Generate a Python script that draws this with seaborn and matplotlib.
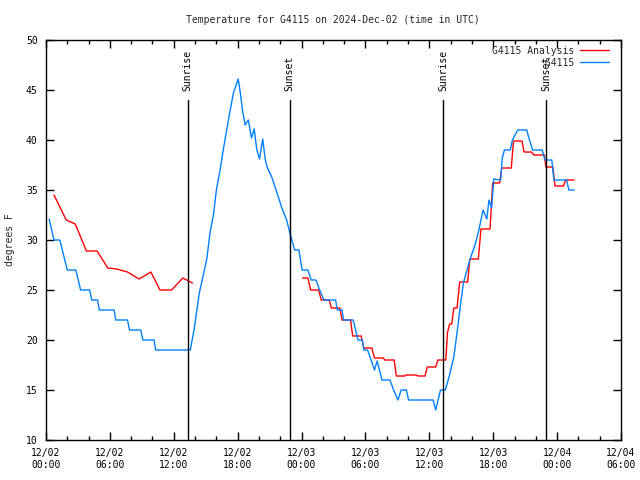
import numpy as np
import pandas as pd
import matplotlib
matplotlib.use("Agg")
import matplotlib.pyplot as plt
import matplotlib.dates as mdates
from matplotlib.lines import Line2D
import seaborn as sns

# ---- data (hours after 2024-12-02 00:00 UTC, temperature degF) ----
obs_hours = [0.3, 0.75, 1.3, 2.0, 2.8, 3.25, 4.1, 4.3, 4.85, 5.0, 6.4, 6.55, 7.65, 7.85,
             8.9, 9.1, 10.15, 10.3, 13.55, 13.9, 14.4, 15.1, 15.4, 15.75, 16.0, 16.35,
             16.6, 16.85, 17.25, 17.6, 18.05, 18.25, 18.45, 18.7, 19.0, 19.3, 19.55, 19.8,
             20.05, 20.35, 20.6, 20.8, 21.2, 21.7, 22.15, 22.6, 22.9, 23.35, 23.75, 24.05,
             24.6, 24.9, 25.35, 25.7, 26.1, 27.2, 27.35, 27.8, 27.95, 28.85, 29.3, 29.7,
             29.85, 30.2, 30.85, 31.1, 31.55, 32.3, 32.65, 33.05, 33.35, 33.85, 34.05,
             36.35, 36.6, 37.05, 37.5, 37.85, 38.3, 38.6, 38.9, 39.2, 39.8, 40.35, 40.65,
             41.05, 41.4, 41.6, 41.85, 42.05, 42.7, 42.85, 43.05, 43.6, 43.8, 44.3, 45.15,
             45.35, 45.7, 46.6, 46.85, 47.5, 47.7, 48.9, 49.1, 49.6]
obs_temps = [32.1, 30, 30, 27, 27, 25, 25, 24, 24, 23, 23, 22, 22, 21,
             21, 20, 20, 19, 19, 21, 24.7, 28.1, 30.7, 32.7, 35, 37,
             38.7, 40.3, 42.7, 44.7, 46.1, 44.7, 43, 41.5, 42, 40.2, 41.1, 39,
             38.1, 40.1, 38, 37.2, 36.3, 34.7, 33.2, 32, 30.7, 29, 29, 27,
             27, 26, 26, 25, 24, 24, 23, 23, 22, 22, 20, 20,
             19, 19, 17, 17.9, 16, 16, 15, 14, 15, 15, 14,
             14, 13, 15, 15, 16.3, 18.3, 20.7, 23.3, 25.7, 28, 29.7, 31,
             33, 32.1, 34, 33.2, 36.1, 36, 38.2, 39, 39, 40, 41, 41,
             40.2, 39, 39, 38, 38, 36, 36, 35, 35]

ana_hours_a = [0.75, 1.9, 2.75, 3.8, 4.8, 5.8, 6.65, 7.65, 8.75, 9.85, 10.7, 11.8, 12.85, 13.75]
ana_temps_a = [34.5, 32, 31.6, 28.9, 28.9, 27.2, 27.1, 26.8, 26.1, 26.8, 25, 25, 26.2, 25.7]
ana_hours_b = [24.1, 24.6, 24.85, 25.6, 25.85, 26.6, 26.8, 27.6, 27.8, 28.6, 28.8, 29.6,
               29.85, 30.6, 30.85, 31.7, 31.8, 32.7, 32.9, 33.7, 33.8, 34.8, 34.9, 35.6,
               35.8, 36.6, 36.8, 37.55, 37.7, 37.9, 38.1, 38.3, 38.6, 38.85, 39.6, 39.8,
               40.6, 40.85, 41.7, 41.95, 42.6, 42.8, 43.7, 43.9, 44.7, 44.9, 45.6, 45.8,
               46.8, 46.95, 47.6, 47.8, 48.6, 48.8, 49.6]
ana_temps_b = [26.2, 26.2, 25, 25, 24, 24, 23.2, 23.2, 22, 22, 20.4, 20.4,
               19.2, 19.2, 18.2, 18.2, 18.0, 18.0, 16.4, 16.4, 16.5, 16.5, 16.4, 16.4,
               17.3, 17.3, 18, 18, 20.7, 21.6, 21.6, 23.2, 23.2, 25.8, 25.8, 28.1,
               28.1, 31.1, 31.1, 35.7, 35.7, 37.2, 37.2, 39.9, 39.9, 38.8, 38.8, 38.5,
               38.5, 37.3, 37.3, 35.4, 35.4, 36, 36]

sun_labels = ["Sunrise", "Sunset", "Sunrise", "Sunset"]
sun_hours = [13.29, 22.89, 37.28, 46.97]

title = "Temperature for G4115 on 2024-Dec-02 (time in UTC)"
ylabel = "degrees F"
series_names = ["G4115 Analysis", "G4115"]

base = pd.Timestamp("2024-12-02 00:00")
def to_time(hours):
    return [base + pd.Timedelta(hours=h) for h in hours]

obs_df = pd.DataFrame({"time": to_time(obs_hours), "temp": obs_temps})
ana_df = pd.DataFrame({
    "time": to_time(ana_hours_a) + to_time(ana_hours_b),
    "temp": ana_temps_a + ana_temps_b,
    "seg": [0] * len(ana_hours_a) + [1] * len(ana_hours_b),
})

sns.set_style("ticks")
plt.rcParams["font.family"] = ["DejaVu Sans Mono"]

RED = "#ff0000"
BLUE = "#0080ff"

fig = plt.figure(figsize=(6.4, 4.8), dpi=100)
ax = fig.add_axes([46 / 640, 40 / 480, 575 / 640, 400 / 480])

sns.lineplot(data=ana_df, x="time", y="temp", units="seg", estimator=None,
             color=RED, lw=1.0, ax=ax, legend=False)
sns.lineplot(data=obs_df, x="time", y="temp", color=BLUE, lw=1.0, ax=ax,
             estimator=None, legend=False)

xmin = base
xmax = base + pd.Timedelta(hours=54)
ax.set_xlim(xmin, xmax)
ax.set_ylim(10, 50)

for lab, h in zip(sun_labels, sun_hours):
    t = base + pd.Timedelta(hours=h)
    ax.plot([t, t], [10, 44], color="black", lw=1.0)
    ax.text(t, 44.85, lab, rotation=90, ha="center", va="bottom", fontsize=7,
            color="black")

ax.xaxis.set_major_locator(mdates.HourLocator(byhour=[0, 6, 12, 18]))
ax.xaxis.set_minor_locator(mdates.HourLocator(byhour=range(0, 24, 2)))
ax.xaxis.set_major_formatter(mdates.DateFormatter("%m/%d\n%H:%M"))
ax.set_yticks(np.arange(10, 51, 5))

ax.tick_params(axis="both", which="both", direction="in", top=True, right=True,
               labelsize=7, colors="black")
ax.tick_params(axis="both", which="major", length=6, width=1, pad=6)
ax.tick_params(axis="x", which="minor", length=3, width=1)
for sp in ax.spines.values():
    sp.set_color("black")
    sp.set_linewidth(1.0)

ax.set_xlabel("")
ax.set_ylabel(ylabel, fontsize=7, labelpad=8)
fig.text(333 / 640, 1 - 20 / 480, title, ha="center", va="center", fontsize=7)

handles = [Line2D([], [], color=RED, lw=1.0), Line2D([], [], color=BLUE, lw=1.0)]
pad = max(len(s) for s in series_names)
labels = [s.rjust(pad) for s in series_names]
ax.legend(handles, labels, loc="upper right", markerfirst=False, frameon=False,
          fontsize=7, handlelength=3.0, handletextpad=0.6, labelspacing=0.2,
          bbox_to_anchor=(1 - 6 / 575, 1.0), borderaxespad=0.3, borderpad=0.3)

fig.savefig("out.png", dpi=100)
